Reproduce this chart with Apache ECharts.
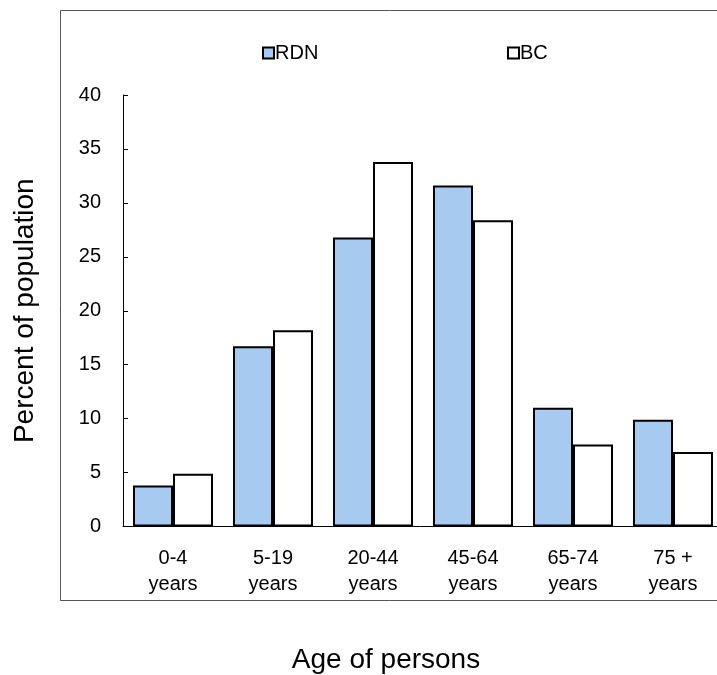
<!DOCTYPE html>
<html>
<head>
<meta charset="utf-8">
<script src="https://cdn.jsdelivr.net/npm/echarts@6/dist/echarts.min.js"></script>
<style>
html,body{margin:0;padding:0;background:#fff;}
#chart{width:717px;height:675px;}
</style>
</head>
<body>
<div id="chart"></div>
<script>
const categories = ['0-4\nyears', '5-19\nyears', '20-44\nyears', '45-64\nyears', '65-74\nyears', '75 +\nyears'];
const rdnValues = [3.8, 16.7, 26.8, 31.6, 11.0, 9.9];
const bcValues = [4.9, 18.2, 33.8, 28.4, 7.6, 6.9];
const yTicks = [0, 5, 10, 15, 20, 25, 30, 35, 40];

const FONT = 'Liberation Sans, Arial, sans-serif';
const chart = echarts.init(document.getElementById('chart'), null, {renderer: 'canvas'});
chart.setOption({
  animation: false,
  backgroundColor: '#fff',
  textStyle: {fontFamily: FONT},
  graphic: [
    {type: 'rect', shape: {x: 60.5, y: 10.5, width: 700, height: 590}, style: {fill: 'none', stroke: '#555', lineWidth: 1}, z: -1},
    {type: 'text', x: 386, y: 660, style: {text: 'Age of persons', font: '28px ' + FONT, fill: '#000', textAlign: 'center', textVerticalAlign: 'middle'}}
  ],
  legend: [
    {data: ['RDN'], left: 257, top: 38, icon: 'rect', itemWidth: 11, itemHeight: 11, itemGap: 2,
     textStyle: {fontSize: 20, color: '#000', fontFamily: FONT, padding: [0, 0, 0, -4]},
     itemStyle: {borderColor: '#000', borderWidth: 2}},
    {data: ['BC'], left: 502, top: 38, icon: 'rect', itemWidth: 11, itemHeight: 11, itemGap: 2,
     textStyle: {fontSize: 20, color: '#000', fontFamily: FONT, padding: [0, 0, 0, -4]},
     itemStyle: {borderColor: '#000', borderWidth: 2}}
  ],
  grid: {left: 123, top: 95, width: 600, height: 431.5, containLabel: false, outerBoundsMode: 'none'},
  xAxis: {
    type: 'category',
    data: categories,
    axisLine: {lineStyle: {color: '#000', width: 1}},
    axisTick: {show: false},
    axisLabel: {color: '#000', fontSize: 20, lineHeight: 26, margin: 19, fontFamily: FONT, interval: 0}
  },
  yAxis: {
    type: 'value',
    min: yTicks[0],
    max: yTicks[yTicks.length - 1],
    interval: 5,
    name: 'Percent of population',
    nameLocation: 'middle',
    nameGap: 84,
    nameTextStyle: {fontSize: 28, color: '#000', fontFamily: FONT},
    axisLine: {show: true, lineStyle: {color: '#000', width: 1}},
    axisTick: {show: true, inside: true, length: 5, lineStyle: {color: '#000'}},
    splitLine: {show: false},
    axisLabel: {color: '#000', fontSize: 20, margin: 22, fontFamily: FONT}
  },
  series: [
    {name: 'RDN', type: 'bar', data: rdnValues, barGap: '0%', barCategoryGap: '20%',
     itemStyle: {color: '#A6CAF0', borderColor: '#000', borderWidth: 2}},
    {name: 'BC', type: 'bar', data: bcValues,
     itemStyle: {color: '#FFFFFF', borderColor: '#000', borderWidth: 2}}
  ]
});
</script>
</body>
</html>
